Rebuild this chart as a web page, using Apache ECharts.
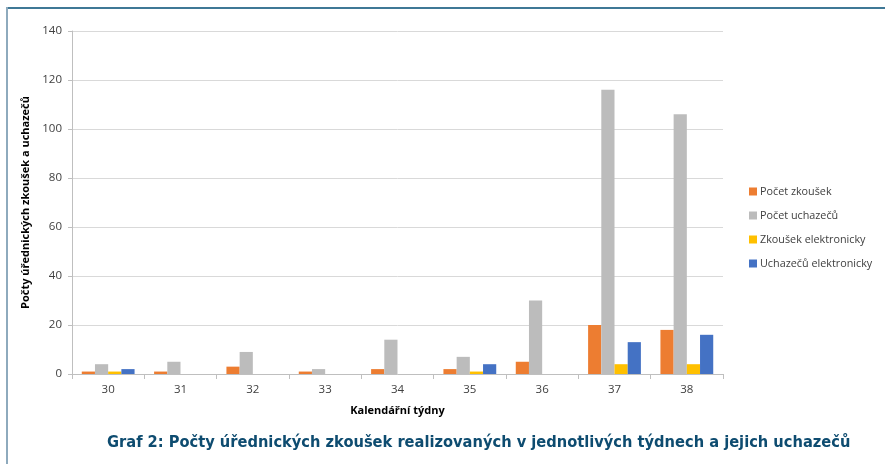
<!DOCTYPE html>
<html><head><meta charset="utf-8">
<script src="https://cdn.jsdelivr.net/npm/echarts@6/dist/echarts.min.js"></script>
<style>
html,body{margin:0;padding:0;background:#fff;}
#frame{position:absolute;left:0;top:0;width:885px;height:464px;}
#topline{position:absolute;left:7px;top:7px;width:878px;height:2px;background:#3f7896;}
#leftline{position:absolute;left:6px;top:7px;width:2px;height:457px;background:#8eaabd;}
#chart{position:absolute;left:0;top:0;width:885px;height:464px;}
</style>
</head><body>
<div id="frame"><div id="chart"></div><div id="topline"></div><div id="leftline"></div></div>
<script>
const categories = ['30','31','32','33','34','35','36','37','38'];
const pocetZkousek = [1,1,3,1,2,2,5,20,18];
const pocetUchazecu = [4,5,9,2,14,7,30,116,106];
const zkousekElektronicky = [1,0,0,0,0,1,0,4,4];
const uchazecuElektronicky = [2,0,0,0,0,4,0,13,16];
const seriesNames = ['Počet zkoušek','Počet uchazečů','Zkoušek elektronicky','Uchazečů elektronicky'];
const colors = ['#ed7d31','#bcbcbc','#ffc000','#4472c4'];
const chartTitle = 'Graf 2: Počty úřednických zkoušek realizovaných v jednotlivých týdnech a jejich uchazečů';

const chart = echarts.init(document.getElementById('chart'), null, {renderer:'canvas'});
const font = 'Open Sans';
const data = [pocetZkousek, pocetUchazecu, zkousekElektronicky, uchazecuElektronicky];
chart.setOption({
  animation:false,
  color: colors,
  title: {
    text: chartTitle, left: 102, top: 430,
    textStyle: {fontFamily:'"DejaVu Sans Condensed", Roboto, sans-serif', fontWeight:'bold', fontSize:16.3, color:'#0e4c70'}
  },
  legend: {
    orient:'vertical', left: 744, top: 181, itemWidth:8, itemHeight:8, itemGap:13,
    icon:'rect',
    textStyle:{fontFamily:font, fontSize:10.8, color:'#404040', padding:[0,0,0,-2]},
    data: seriesNames
  },
  grid: {left:72, right:162, top:31, bottom:90},
  xAxis: {
    type:'category', data: categories,
    name:'Kalendářní týdny', nameLocation:'middle', nameGap:31,
    nameTextStyle:{fontFamily:font, fontSize:11, fontWeight:'bold', color:'#000'},
    axisLine:{lineStyle:{color:'#bfbfbf'}},
    axisTick:{show:true, length:5, lineStyle:{color:'#bfbfbf'}},
    axisLabel:{fontFamily:font, fontSize:11.5, color:'#404040', margin:10}
  },
  yAxis: {
    type:'value', min:0, max:140, interval:20,
    name:'Počty úřednických zkoušek a uchazečů', nameLocation:'middle', nameGap:35, nameRotate:90,
    nameTextStyle:{fontFamily:font, fontSize:11, fontWeight:'bold', color:'#000'},
    axisLine:{show:true, lineStyle:{color:'#bfbfbf'}},
    axisTick:{show:true, length:4, lineStyle:{color:'#bfbfbf'}},
    splitLine:{lineStyle:{color:'#d9d9d9'}},
    axisLabel:{fontFamily:font, fontSize:11.5, color:'#404040', margin:10}
  },
  series: seriesNames.map((n,i)=>({
    name:n, type:'bar', data:data[i], barGap:'0%', barCategoryGap:'27%',
    itemStyle:{color:colors[i]}
  }))
});
</script>
</body></html>
